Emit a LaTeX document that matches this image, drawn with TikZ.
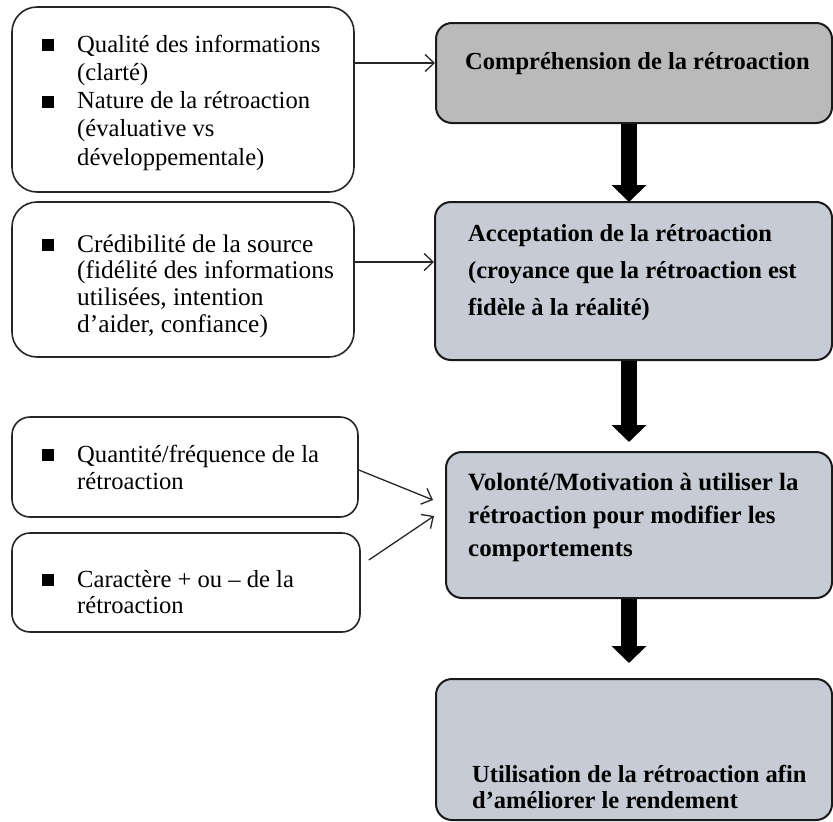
\documentclass[tikz,border=0pt]{standalone}
\usepackage{fontspec}
\setmainfont{Liberation Serif}
\usetikzlibrary{arrows.meta}
\definecolor{compgray}{HTML}{BABABA}
\definecolor{stepblue}{HTML}{C7CBD5}
\newcommand\bul{\makebox[35pt][l]{\raisebox{1pt}{\rule{12pt}{12pt}}}}
\newcommand\ind{\hspace*{35pt}}
\newcommand\fst{\rule{0pt}{20pt}}
\begin{document}
\begin{tikzpicture}[x=1pt,y=-1pt,
  lbox/.style={draw=black!85,line width=1.6pt,fill=white,inner sep=0pt},
  rbox/.style={draw=black!90,line width=2pt,rounded corners=16pt,inner sep=0pt},
  ltext/.style={anchor=north west,inner sep=0pt,align=left},
  rtext/.style={anchor=north west,inner sep=0pt,align=left,font=\bfseries},
  thinarrow/.style={draw=black!85,line width=1.3pt,-{Straight Barb[length=9pt,width=17pt]}},
  bigarrow/.style={draw=black,line width=16pt,-{Triangle[length=17pt,width=34pt]}}]
\useasboundingbox (0,0) rectangle (833,822);
% left boxes
\node[lbox,rounded corners=25pt,minimum width=342pt,minimum height=185pt] (L1) at (183,99.5) {};
\node[lbox,rounded corners=25pt,minimum width=342pt,minimum height=155pt] (L2) at (183,279.5) {};
\node[lbox,rounded corners=18pt,minimum width=346pt,minimum height=100pt] (L3) at (185,467) {};
\node[lbox,rounded corners=18pt,minimum width=348pt,minimum height=99pt] (L4) at (186,582.5) {};
% right boxes
\node[rbox,fill=compgray,minimum width=396pt,minimum height=100pt] (R1) at (634,73) {};
\node[rbox,fill=stepblue,minimum width=397pt,minimum height=158pt] (R2) at (633.5,281) {};
\node[rbox,fill=stepblue,minimum width=386pt,minimum height=146pt] (R3) at (639,525) {};
\node[rbox,fill=stepblue,minimum width=396pt,minimum height=141pt] (R4) at (634,749.5) {};
% left texts
\node[ltext,font=\fontsize{24.6}{28.25}\selectfont] (T1) at (42,32)
  {\fst\bul Qualité des informations\\\ind (clarté)\\\bul Nature de la rétroaction\\\ind (évaluative vs\\\ind développementale)};
\node[ltext,font=\fontsize{25.4}{26.7}\selectfont] (T2) at (42,232)
  {\fst\bul Crédibilité de la source\\\ind (fidélité des informations\\\ind utilisées, intention\\\ind d’aider, confiance)};
\node[ltext,font=\fontsize{24.6}{27}\selectfont] (T3) at (42,442)
  {\fst\bul Quantité/fréquence de la\\\ind rétroaction};
\node[ltext,font=\fontsize{24.6}{26}\selectfont] (T4) at (42,567)
  {\fst\bul Caractère + ou – de la\\\ind rétroaction};
% right texts
\node[rtext,font=\fontsize{24.5}{30}\selectfont\bfseries] (U1) at (465,49)
  {\fst Compréhension de la rétroaction};
\node[rtext,font=\fontsize{24.5}{37}\selectfont\bfseries] (U2) at (468,221)
  {\fst Acceptation de la rétroaction\\(croyance que la rétroaction est\\fidèle à la réalité)};
\node[rtext,font=\fontsize{24.9}{33}\selectfont\bfseries] (U3) at (468,470)
  {\fst Volonté/Motivation à utiliser la\\rétroaction pour modifier les\\comportements};
\node[rtext,font=\fontsize{24.5}{26}\selectfont\bfseries] (U4) at (472,762)
  {\fst Utilisation de la rétroaction afin\\d’améliorer le rendement};
% thin arrows
\draw[thinarrow] ([yshift=36.5pt]L1.east) -- ([yshift=10pt]R1.west);
\draw[thinarrow] ([yshift=17.5pt]L2.east) -- ([yshift=19pt]R2.west);
\draw[thinarrow] ([yshift=-3pt]L3.east) -- ([xshift=-12pt,yshift=25pt]R3.west);
\draw[thinarrow] ([xshift=8pt,yshift=22.5pt]L4.east) -- ([xshift=-11pt,yshift=9pt]R3.west);
% thick arrows
\coordinate (t1) at (629,202);
\coordinate (t2) at (629,442);
\coordinate (t3) at (629,663);
\draw[bigarrow] (R1.south -| t1) -- (t1);
\draw[bigarrow] (R2.south -| t2) -- (t2);
\draw[bigarrow] (R3.south -| t3) -- (t3);
\end{tikzpicture}
\end{document}
